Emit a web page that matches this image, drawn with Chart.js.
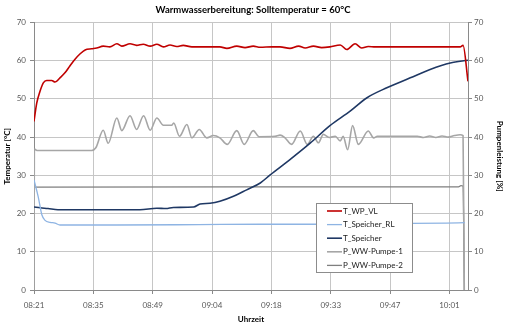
<!DOCTYPE html>
<html>
<head>
<meta charset="utf-8">
<script src="https://cdn.jsdelivr.net/npm/chart.js@4.4.1/dist/chart.umd.min.js"></script>
<style>
  body { margin: 0; background: #fff; }
  canvas { display: block; }
</style>
</head>
<body>
<canvas id="myChart" width="506" height="325"></canvas>
<script>
// x axis: minutes after 08:21
const tickMinutes = [0, 14.4, 28.8, 43.2, 57.6, 72, 86.4, 100.8];
const tickLabels = ['08:21', '08:35', '08:49', '09:04', '09:18', '09:33', '09:47', '10:01'];

// T_WP_VL
const vlTime = [0, 0.66, 1.46, 2.26, 3.08, 4.3, 5.1, 6.3, 7.5, 8.7, 9.9, 11.2, 12.4, 14.0, 15.2, 16.8, 18.4, 20.1, 21.3, 23.3, 24.9, 26.5, 28.2, 29.8, 31.4, 33.0, 34.6, 36.2, 38.3, 45.1, 46.8, 49.2, 51.2, 53.2, 54.9, 57.7, 59.7, 62.1, 64.2, 65.8, 67.8, 69.8, 71.8, 74.3, 75.9, 77.9, 79.5, 81.1, 82.8, 103.4, 104.1, 105.3];
const vlTemp = [44.1, 48.9, 52.0, 54.2, 54.8, 54.8, 54.4, 55.5, 56.8, 58.6, 60.3, 61.8, 62.8, 63.1, 63.3, 63.8, 63.6, 64.4, 63.8, 64.4, 64.0, 64.3, 63.8, 64.3, 63.6, 64.1, 63.7, 64.0, 63.6, 63.6, 63.2, 63.8, 63.4, 63.8, 63.5, 63.6, 63.6, 63.2, 63.8, 63.3, 63.8, 63.4, 63.6, 64.1, 62.9, 64.4, 63.3, 63.7, 63.6, 63.6, 64.0, 54.6];

// T_Speicher_RL
const rlTime = [0, 1.0, 1.9, 2.7, 3.9, 5.1, 6.3, 20, 40, 55, 70, 85, 100, 104.5];
const rlTemp = [28.8, 24.5, 19.7, 18.2, 17.7, 17.5, 17.0, 17.0, 17.1, 17.2, 17.2, 17.4, 17.5, 17.6];

// T_Speicher
const spTime = [0, 1.5, 3.4, 5.8, 25.7, 29.8, 32.0, 33.8, 38.7, 40.3, 42.7, 45.1, 48.4, 51.6, 54.9, 57.3, 62.1, 67.0, 71.8, 76.7, 80.8, 85.6, 91.3, 96.1, 101.0, 105.3];
const spTemp = [21.7, 21.5, 21.3, 21.0, 21.0, 21.4, 21.3, 21.6, 21.7, 22.5, 22.7, 23.2, 24.5, 26.2, 28.0, 30.1, 34.1, 38.4, 43.0, 46.8, 50.3, 52.9, 55.5, 57.7, 59.4, 60.1];

// P_WW-Pumpe-1
const p1Time = [0, 0.1, 0.7, 14.0, 15.0, 16.8, 18.0, 20.1, 21.3, 23.3, 24.9, 26.6, 28.2, 29.8, 31.4, 33.4, 33.9, 35.3, 37.1, 38.3, 40.1, 41.9, 43.5, 45.1, 46.9, 49.2, 51.0, 53.2, 54.6, 58.5, 59.7, 60.9, 62.5, 64.6, 66.3, 67.8, 69.0, 70.2, 71.6, 73.1, 74.3, 75.0, 76.1, 77.3, 78.7, 81.1, 82.4, 83.3, 93.0, 94.5, 96.0, 97.5, 99.0, 100.5, 102.0, 103.4, 104.1, 104.4];
const p1Val = [0, 36.9, 36.5, 36.5, 37.2, 41.8, 38.4, 45.0, 41.7, 45.6, 42.0, 45.6, 41.8, 45.0, 43.1, 43.1, 43.7, 40.2, 43.3, 39.8, 42.0, 39.8, 40.4, 39.8, 38.1, 41.7, 38.1, 41.7, 40.1, 40.2, 40.5, 39.8, 38.1, 41.6, 38.1, 40.2, 38.5, 40.7, 39.9, 40.2, 39.0, 40.2, 36.7, 43.0, 38.1, 41.6, 39.8, 40.2, 40.2, 39.9, 40.3, 39.9, 40.3, 40.0, 40.4, 40.6, 40.4, 0];

// P_WW-Pumpe-2
const p2Time = [0, 0.1, 50, 103.0, 103.6, 104.1, 104.4];
const p2Val = [0, 26.9, 27.0, 27.0, 27.3, 27.2, 0];

function pairs(t, v) {
  return t.map((x, i) => ({x: x, y: v[i]}));
}

const tickFont = {family: 'Lato', size: 8};
const titleFont = {family: 'Lato', size: 8, weight: 'bold'};
const gridColor = '#c6c6c6';
const axisColor = '#8a8a8a';

// legend drawn inside the plot like the original
const legendBox = {
  id: 'legendBox',
  afterDatasetsDraw(chart) {
    const ctx = chart.ctx;
    ctx.save();
    ctx.fillStyle = '#ffffff';
    ctx.fillRect(316, 203, 96, 69);
    ctx.strokeStyle = '#8c8c8c';
    ctx.lineWidth = 1;
    ctx.strokeRect(316.5, 203.5, 96, 69);
    ctx.font = '8px Lato';
    ctx.textBaseline = 'middle';
    chart.data.datasets.forEach((ds, i) => {
      let y = 211 + i * 13.6;
      ctx.strokeStyle = ds.borderColor;
      ctx.lineWidth = ds.borderWidth;
      ctx.beginPath();
      ctx.moveTo(327, y);
      ctx.lineTo(342, y);
      ctx.stroke();
      ctx.fillStyle = '#1a1a1a';
      ctx.fillText(ds.label, 343, y);
    });
    ctx.restore();
  }
};

new Chart('myChart', {
  type: 'line',
  data: {
    datasets: [
      {label: 'T_WP_VL', data: pairs(vlTime, vlTemp), borderColor: '#c00000', borderWidth: 1.6, yAxisID: 'y'},
      {label: 'T_Speicher_RL', data: pairs(rlTime, rlTemp), borderColor: '#8eb4e3', borderWidth: 1.3, yAxisID: 'y'},
      {label: 'T_Speicher', data: pairs(spTime, spTemp), borderColor: '#1f3864', borderWidth: 1.6, yAxisID: 'y'},
      {label: 'P_WW-Pumpe-1', data: pairs(p1Time, p1Val), borderColor: '#a6a6a6', borderWidth: 1.6, yAxisID: 'y1'},
      {label: 'P_WW-Pumpe-2', data: pairs(p2Time, p2Val), borderColor: '#7f7f7f', borderWidth: 1.3, yAxisID: 'y1'}
    ]
  },
  options: {
    responsive: false,
    animation: false,
    devicePixelRatio: 1,
    elements: {
      point: {radius: 0},
      line: {cubicInterpolationMode: 'monotone', fill: false}
    },
    layout: {padding: 0},
    plugins: {
      legend: {display: false},
      tooltip: {enabled: false},
      title: {
        display: true,
        text: 'Warmwasserbereitung: Solltemperatur = 60°C',
        font: {family: 'Lato', size: 9.5, weight: 'bold'},
        color: '#000',
        padding: {top: 4, bottom: 7}
      }
    },
    scales: {
      x: {
        type: 'linear',
        min: 0,
        max: 105.3,
        afterBuildTicks: s => { s.ticks = tickMinutes.map(v => ({value: v})); },
        afterFit: s => { s.height = 35; },
        ticks: {
          callback: (v, i) => tickLabels[i],
          autoSkip: false,
          maxRotation: 0,
          font: tickFont,
          color: '#595959',
          padding: 7
        },
        grid: {color: gridColor, tickColor: axisColor, tickLength: 4},
        border: {color: axisColor},
        title: {display: true, text: 'Uhrzeit', font: titleFont, color: '#000', padding: {top: 0, bottom: 1}}
      },
      y: {
        position: 'left',
        min: 0,
        max: 70,
        afterFit: s => { s.width = 34; },
        ticks: {stepSize: 10, font: tickFont, color: '#595959', padding: 4},
        grid: {color: gridColor, tickColor: axisColor, tickLength: 4},
        border: {color: axisColor},
        title: {display: true, text: 'Temperatur [°C]', font: titleFont, color: '#000', padding: {top: 3, bottom: 0}}
      },
      y1: {
        position: 'right',
        min: 0,
        max: 70,
        afterFit: s => { s.width = 38; },
        ticks: {stepSize: 10, font: tickFont, color: '#595959', padding: 2},
        grid: {drawOnChartArea: false, tickColor: axisColor, tickLength: 4},
        border: {color: axisColor},
        title: {display: true, text: 'Pumpenleistung [%]', font: titleFont, color: '#000', padding: {top: 2, bottom: 0}}
      }
    }
  },
  plugins: [legendBox]
});
</script>
</body>
</html>
